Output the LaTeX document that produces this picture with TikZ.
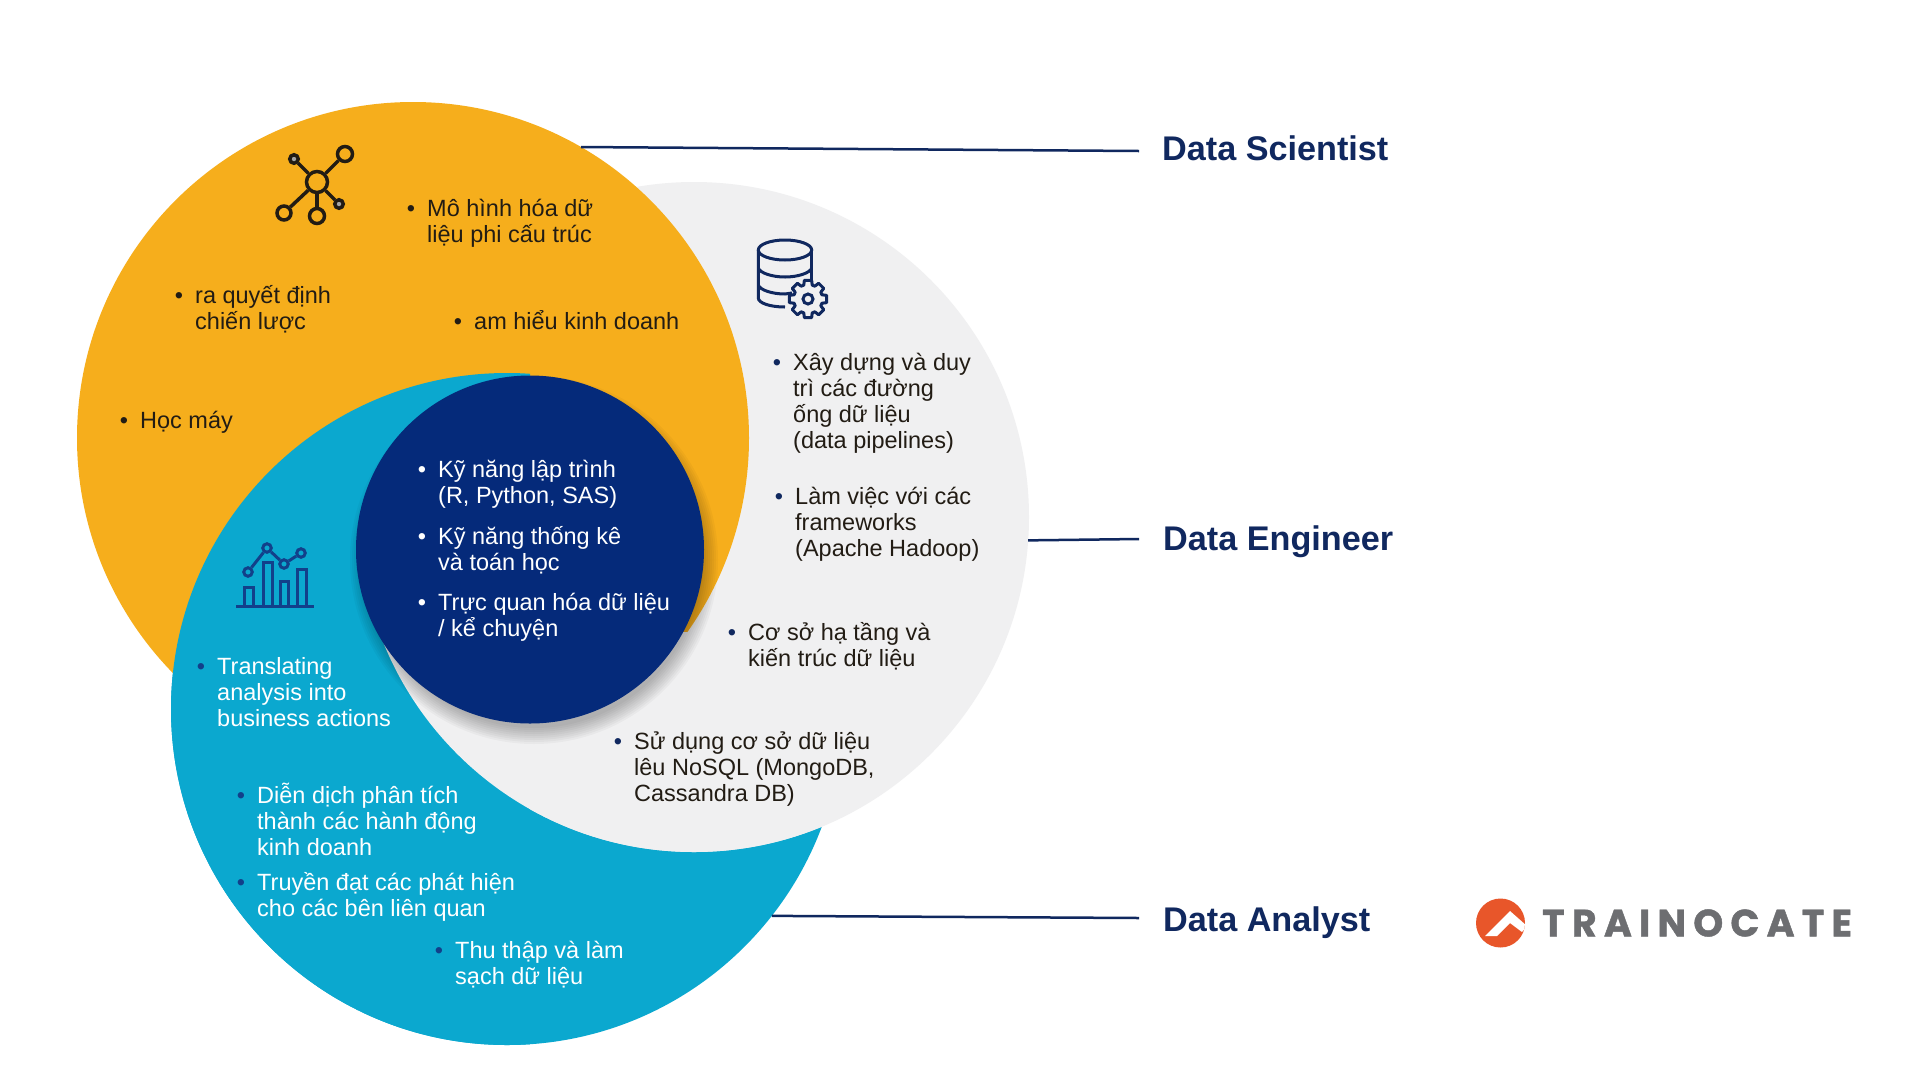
\documentclass[tikz,border=0pt]{standalone}
\usepackage{fontspec}
\setmainfont{Liberation Sans}
\newfontfamily\logofont[LetterSpace=19,BoldFeatures={FakeBold=1.2}]{Poppins}
\definecolor{orangeS}{HTML}{F6AE1C}
\definecolor{greyE}{HTML}{F0F0F1}
\definecolor{tealA}{HTML}{0BA8CF}
\definecolor{navyC}{HTML}{052A7A}
\definecolor{inkD}{HTML}{221C14}
\definecolor{inkN}{HTML}{10285F}
\definecolor{inkB}{HTML}{12408A}
\definecolor{logoO}{HTML}{E8562A}
\definecolor{logoG}{HTML}{6D6E71}
\newcommand{\bul}[1]{\rule{0pt}{23.5pt}\llap{\textcolor{#1}{\textbullet}\hspace{12pt}}}
\tikzset{
    ring/.style={circle, inner sep=0pt, outer sep=0pt, minimum size=#1},
    txt/.style={anchor=north west, inner sep=0pt, align=left, font=\fontsize{23.5}{25.9}\selectfont},
    role/.style={anchor=west, inner sep=0pt, text=inkN, text height=25pt, text depth=7pt, font=\fontsize{34.2}{38}\selectfont\bfseries},
    leader/.style={draw=inkN, line width=2.5pt},
    netdot/.style={circle, draw=inkD, line width=3.5pt, inner sep=0pt, outer sep=1.75pt, minimum size=#1},
    netline/.style={draw=inkD, line width=3.5pt},
    chartline/.style={draw=inkB, line width=3pt},
    chartdot/.style={circle, draw=inkB, line width=3pt, inner sep=0pt, outer sep=1.5pt, minimum size=8.5pt},
    dbline/.style={draw=inkN, line width=3pt}
}
\begin{document}
\begin{tikzpicture}[x=1pt, y=-1pt]
    \useasboundingbox[fill=white] (0,0) rectangle (1920,1080);
    % circles
    \node[ring=672pt, fill=tealA] (nAnalyst) at (507,709) {};
    \node[ring=670pt, fill=greyE] (nEngineer) at (694,517) {};
    \node[ring=672pt, fill=orangeS] (nScientist) at (413,438) {};
    \begin{scope}
    \clip (0,0) rectangle (530,1080);
    \fill[tealA] (nAnalyst.center) circle (336pt);
    \end{scope}
    \begin{scope}
    \clip (nAnalyst.center) circle (336pt);
    \clip (0,632) rectangle (1920,1080);
    \fill[greyE] (nEngineer.center) circle (335pt);
    \end{scope}
    % soft shadow under the core
    \foreach \r in {184,182,...,168}
        \fill[black, opacity=.03] (534,560) circle (\r pt);
    \node[ring=348pt, fill=navyC] (nCore) at (530,549.5) {};
    % role labels and leaders
    \node[role] (lScientist) at (1162,151) {Data Scientist};
    \node[role] (lEngineer) at (1163,541) {Data Engineer};
    \node[role] (lAnalyst) at (1163,922) {Data Analyst};
    \draw[leader] (nScientist.60) -- ([xshift=-23pt]lScientist.west);
    \draw[leader] (nEngineer.-4) -- ([shift={(-24,-2)}]lEngineer.west);
    \draw[leader] (nAnalyst.-38.6) -- ([shift={(-24,-4)}]lAnalyst.west);
    % scientist
    \node[txt, text=inkD] (s1) at (427,193) {\bul{inkD}Mô hình hóa dữ\\liệu phi cấu trúc};
    \node[txt, text=inkD] (s2) at (195,280) {\bul{inkD}ra quyết định\\chiến lược};
    \node[txt, text=inkD] (s3) at (474,306) {\bul{inkD}am hiểu kinh doanh};
    \node[txt, text=inkD] (s4) at (140,405) {\bul{inkD}Học máy};
    % core
    \node[txt, text=white] (c1) at (438,454) {\bul{white}Kỹ năng lập trình\\(R, Python, SAS)};
    \node[txt, text=white] (c2) at (438,521) {\bul{white}Kỹ năng thống kê\\và toán học};
    \node[txt, text=white] (c3) at (438,587) {\bul{white}Trực quan hóa dữ liệu\\/ kể chuyện};
    % engineer
    \node[txt, text=inkD] (e1) at (793,347) {\bul{inkN}Xây dựng và duy\\trì các đường\\ống dữ liệu\\(data pipelines)};
    \node[txt, text=inkD] (e2) at (795,481) {\bul{inkN}Làm việc với các\\frameworks\\(Apache Hadoop)};
    \node[txt, text=inkD] (e3) at (748,617) {\bul{inkN}Cơ sở hạ tầng và\\kiến trúc dữ liệu};
    \node[txt, text=inkD] (e4) at (634,726) {\bul{inkN}Sử dụng cơ sở dữ liệu\\lêu NoSQL (MongoDB,\\Cassandra DB)};
    % analyst
    \node[txt, text=white] (a1) at (217,651) {\bul{inkB}Translating\\analysis into\\business actions};
    \node[txt, text=white] (a2) at (257,780) {\bul{inkB}Diễn dịch phân tích\\thành các hành động\\kinh doanh};
    \node[txt, text=white] (a3) at (257,867) {\bul{inkB}Truyền đạt các phát hiện\\cho các bên liên quan};
    \node[txt, text=white] (a4) at (455,935) {\bul{inkB}Thu thập và làm\\sạch dữ liệu};
    % network icon
    \node[netdot=21pt] (hub) at (317,182) {};
    \node[netdot=15pt] (sat1) at (345,154) {};
    \node[netdot=8.5pt, fill=black!35] (sat2) at (294,159) {};
    \node[netdot=14pt] (sat3) at (284,213) {};
    \node[netdot=15pt] (sat4) at (317,216) {};
    \node[netdot=8.5pt, fill=black!35] (sat5) at (339,204) {};
    \foreach \s in {sat1,sat2,sat3,sat4,sat5}
        \draw[netline] (hub) -- (\s);
    % database icon
    \draw[dbline] (785,250) ellipse (26.7pt and 10pt);
    \draw[dbline] (758.3,250) -- (758.3,298) .. controls (758.3,303) and (770,307) .. (785,307);
    \draw[dbline] (811.7,250) -- (811.7,282);
    \draw[dbline] (758.3,268) .. controls (760,273) and (772,277) .. (785,277) .. controls (798,277) and (810,273) .. (811.7,268);
    \draw[dbline] (758.3,285) .. controls (760,290) and (772,294) .. (785,294) -- (792,293);
    \begin{scope}[shift={(808,299)}]
    \draw[dbline, fill=greyE, line join=round] (-11:19)
        \foreach \a in {0,45,...,315}{ -- (\a-11:19) -- (\a+11:19) -- (\a+17:14.5) -- (\a+28:14.5)} -- cycle;
    \draw[dbline] (0,0) circle (5pt);
    \end{scope}
    % chart icon
    \node[chartdot] (p1) at (248,572) {};
    \node[chartdot] (p2) at (267,548) {};
    \node[chartdot] (p3) at (284,564) {};
    \node[chartdot] (p4) at (301,553) {};
    \draw[chartline] (p1) -- (p2);
    \draw[chartline] (p2) -- (p3);
    \draw[chartline] (p3) -- (p4);
    \draw[chartline] (236,606) -- (314,606);
    \draw[chartline] (244.5,606) |- (253.5,587) -- (253.5,606);
    \draw[chartline] (263,606) |- (272,562) -- (272,606);
    \draw[chartline] (280,606) |- (288,581) -- (288,606);
    \draw[chartline] (297.5,606) |- (306.5,569) -- (306.5,606);
    % logo
    \node[ring=49pt, fill=logoO] (logoMark) at (1500.5,923) {};
    \begin{scope}
    \clip (logoMark.center) circle (24.5pt);
    \fill[white] (1485,936) -- (1510,911) -- (1527,926) -- (1522,932) -- (1510,923) -- (1497,936) -- cycle;
    \end{scope}
    \node[anchor=west, inner sep=0pt, text=logoG, font=\fontsize{38}{40}\selectfont\logofont\bfseries] (logoText) at (1542,923) {TRAINOCATE};
\end{tikzpicture}
\end{document}
